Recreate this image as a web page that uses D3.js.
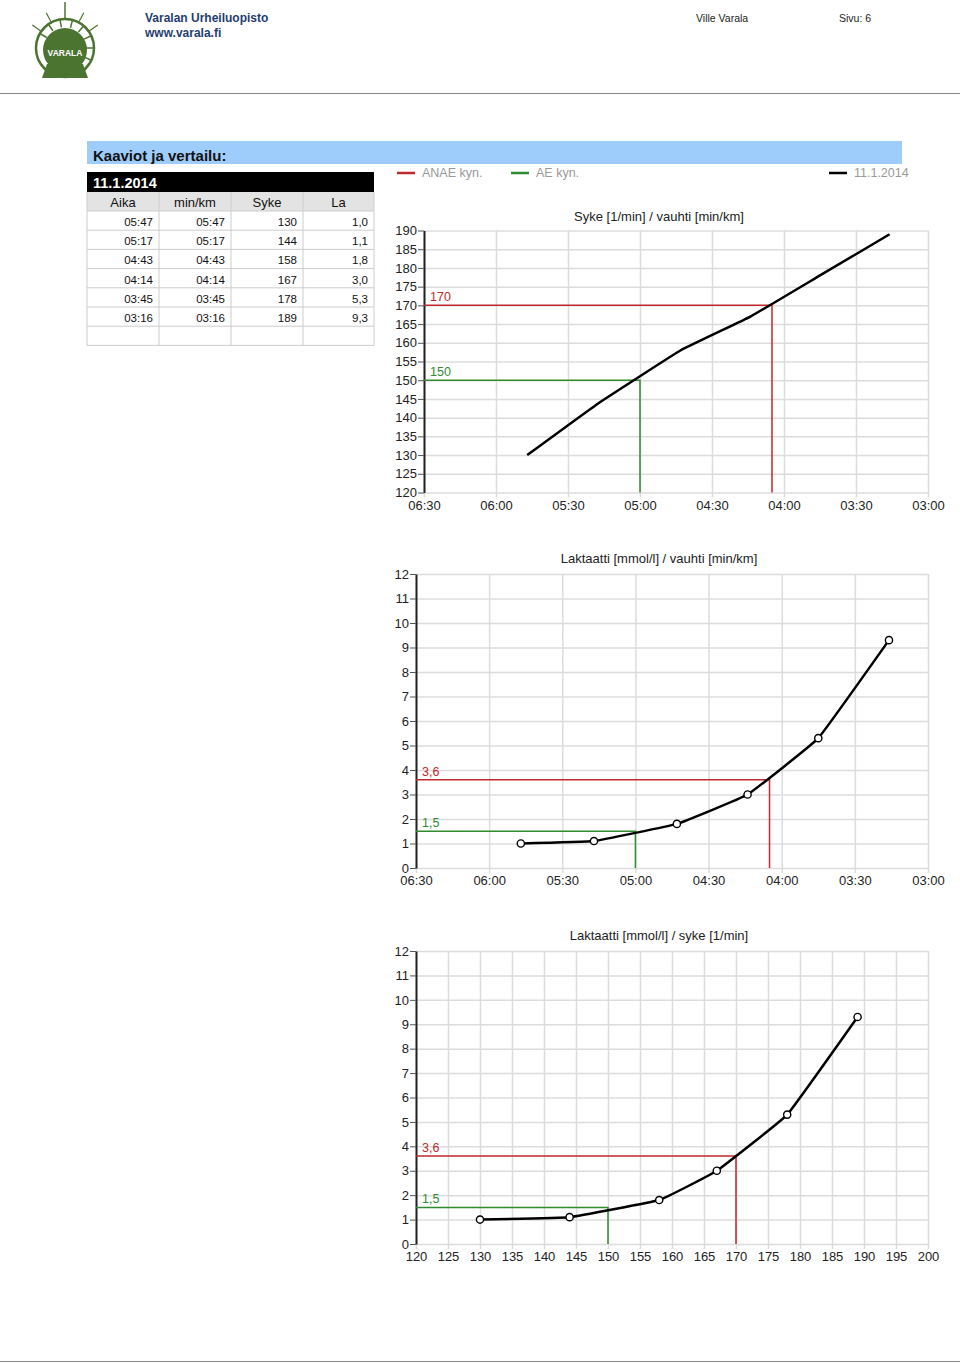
<!DOCTYPE html>
<html><head><meta charset="utf-8">
<script src="https://cdn.jsdelivr.net/npm/d3@7"></script>
<style>
body{margin:0;background:#fff;font-family:"Liberation Sans",Arial,sans-serif;}
svg text{font-family:"Liberation Sans",Arial,sans-serif;}
</style></head><body>
<svg id="page" width="960" height="1365"></svg>
<script>
// ---- data ----
const tableDate = "11.1.2014";
const tableHeaders = ["Aika", "min/km", "Syke", "La"];
const aika = ["05:47", "05:17", "04:43", "04:14", "03:45", "03:16"];
const pace = ["05:47", "05:17", "04:43", "04:14", "03:45", "03:16"];
const syke = [130, 144, 158, 167, 178, 189];
const la = [1.0, 1.1, 1.8, 3.0, 5.3, 9.3];
const laLabels = ["1,0", "1,1", "1,8", "3,0", "5,3", "9,3"];
const paceTicks = ["06:30", "06:00", "05:30", "05:00", "04:30", "04:00", "03:30", "03:00"];
const sykeTicks = [120, 125, 130, 135, 140, 145, 150, 155, 160, 165, 170, 175, 180, 185, 190];
const laTicks = [0, 1, 2, 3, 4, 5, 6, 7, 8, 9, 10, 11, 12];
const sykeXTicks = [120, 125, 130, 135, 140, 145, 150, 155, 160, 165, 170, 175, 180, 185, 190, 195, 200];
// thresholds
const anae = {pace: "04:05", syke: 170, la: 3.6, label: "ANAE kyn.", laLabel: "3,6"};
const ae = {pace: "05:00", syke: 150, la: 1.5, label: "AE kyn.", laLabel: "1,5"};

const toSec = s => { const [m, ss] = s.split(":").map(Number); return m * 60 + ss; };
const paceSec = pace.map(toSec);

const svg = d3.select("#page");
const RED = "#c0282d", GREEN = "#2e8b2e", GRID = "#dcdcdc";

// ---- header ----
const logo = svg.append("g").attr("fill", "#4b7431").attr("stroke", "#4b7431");
const cx = 65, cy = 48;
[-55, -28, 0, 28, 55].forEach(a => {
  const r = a * Math.PI / 180;
  const len = a === 0 ? 46 : 40;
  logo.append("line").attr("x1", cx).attr("y1", cy).attr("x2", cx + Math.sin(r) * len).attr("y2", cy - Math.cos(r) * len).attr("stroke-width", a === 0 ? 1.5 : 1.2);
});
logo.append("circle").attr("cx", cx).attr("cy", cy).attr("r", 29).attr("fill", "#fff").attr("stroke-width", 2.5);
for (let i = 0; i < 12; i++) {
  const a = (-150 + i * 25) * Math.PI / 180;
  logo.append("line").attr("x1", cx + Math.cos(a) * 21).attr("y1", cy + Math.sin(a) * 21).attr("x2", cx + Math.cos(a) * 29).attr("y2", cy + Math.sin(a) * 29).attr("stroke-width", 1.5);
}
logo.append("path").attr("d", `M${cx-18},${cy+16} L${cx-23},${cy+30} L${cx+23},${cy+30} L${cx+18},${cy+16} Z`).attr("stroke", "none");
logo.append("circle").attr("cx", cx).attr("cy", cy + 2).attr("r", 22).attr("stroke", "none");
logo.append("text").attr("x", cx).attr("y", cy + 8).attr("text-anchor", "middle").attr("fill", "#fff").attr("stroke", "none").attr("font-size", 8.5).attr("font-weight", "bold").text("VARALA");

svg.append("text").attr("x", 145).attr("y", 22).attr("font-size", 12).attr("font-weight", "bold").attr("fill", "#1f3e6e").text("Varalan Urheiluopisto");
svg.append("text").attr("x", 145).attr("y", 37).attr("font-size", 12).attr("font-weight", "bold").attr("fill", "#1f3e6e").text("www.varala.fi");
svg.append("text").attr("x", 696).attr("y", 22).attr("font-size", 10.5).attr("fill", "#222").text("Ville Varala");
svg.append("text").attr("x", 839).attr("y", 22).attr("font-size", 10.5).attr("fill", "#222").text("Sivu: 6");
svg.append("line").attr("x1", 0).attr("x2", 960).attr("y1", 93.5).attr("y2", 93.5).attr("stroke", "#888").attr("stroke-width", 1);
svg.append("line").attr("x1", 0).attr("x2", 960).attr("y1", 1361.5).attr("y2", 1361.5).attr("stroke", "#888").attr("stroke-width", 1);

// ---- section band ----
svg.append("rect").attr("x", 87).attr("y", 141).attr("width", 815).attr("height", 23).attr("fill", "#9fcdfb");
svg.append("text").attr("x", 93).attr("y", 161).attr("font-size", 15).attr("font-weight", "bold").attr("fill", "#111").text("Kaaviot ja vertailu:");

// ---- table ----
const colX = [87, 159, 231, 303, 374];
const tbl = svg.append("g");
tbl.append("rect").attr("x", 87).attr("y", 172).attr("width", 287).attr("height", 20).attr("fill", "#000");
tbl.append("text").attr("x", 93).attr("y", 188).attr("font-size", 14.5).attr("font-weight", "bold").attr("fill", "#fff").text(tableDate);
tbl.append("rect").attr("x", 87).attr("y", 192).attr("width", 287).attr("height", 19).attr("fill", "#e3e3e3");
tableHeaders.forEach((h, i) => {
  tbl.append("text").attr("x", (colX[i] + colX[i + 1]) / 2).attr("y", 207).attr("text-anchor", "middle").attr("font-size", 13).attr("fill", "#111").text(h);
});
const rowH = 19.2, row0 = 211;
const rows = aika.map((a, i) => [a, pace[i], String(syke[i]), laLabels[i]]);
rows.forEach((r, j) => {
  r.forEach((v, i) => {
    tbl.append("text").attr("x", colX[i + 1] - 6).attr("y", row0 + j * rowH + 15).attr("text-anchor", "end").attr("font-size", 11.5).attr("fill", "#111").text(v);
  });
});
const nRows = rows.length + 1;
for (let j = 0; j <= nRows; j++) {
  tbl.append("line").attr("x1", 87).attr("x2", 374).attr("y1", row0 + j * rowH).attr("y2", row0 + j * rowH).attr("stroke", "#ccc");
}
colX.forEach(x => tbl.append("line").attr("x1", x).attr("x2", x).attr("y1", 192).attr("y2", row0 + nRows * rowH).attr("stroke", "#ccc"));

// ---- legend ----
const legend = [{c: RED, t: anae.label, x: 397}, {c: GREEN, t: ae.label, x: 511}, {c: "#000", t: tableDate, x: 829}];
legend.forEach(l => {
  svg.append("line").attr("x1", l.x).attr("x2", l.x + 18).attr("y1", 173).attr("y2", 173).attr("stroke", l.c).attr("stroke-width", 2.5);
  svg.append("text").attr("x", l.x + 25).attr("y", 177).attr("font-size", 12.5).attr("fill", "#999").text(l.t);
});

// ---- chart helper ----
function chart(opts) {
  const {x, y, xTicks, xFmt, yTicks, title, titleY, pts, markers, thr} = opts;
  const g = svg.append("g");
  const [x0, x1] = x.range(), [y0, y1] = y.range();
  g.selectAll(".vg").data(xTicks).join("line")
    .attr("x1", d => x(d) + 0.5).attr("x2", d => x(d) + 0.5).attr("y1", y1).attr("y2", y0 + 5)
    .attr("stroke", GRID).attr("stroke-width", 1.5);
  g.selectAll(".hg").data(yTicks).join("line")
    .attr("x1", x0).attr("x2", x1).attr("y1", d => y(d) + 0.5).attr("y2", d => y(d) + 0.5)
    .attr("stroke", GRID).attr("stroke-width", 1.5);
  const ya = g.append("g").attr("transform", `translate(${x0},0)`)
    .call(d3.axisLeft(y).tickValues(yTicks).tickSize(6).tickPadding(1).tickSizeOuter(0));
  ya.select(".domain").attr("stroke", "#222").attr("stroke-width", 2);
  ya.selectAll(".tick line").attr("stroke", "#555");
  ya.selectAll(".tick text").attr("font-size", 13).attr("fill", "#222").attr("font-family", "Liberation Sans, Arial, sans-serif");
  const xa = g.append("g").attr("transform", `translate(0,${y0})`)
    .call(d3.axisBottom(x).tickValues(xTicks).tickFormat(xFmt).tickSize(0).tickPadding(8));
  xa.select(".domain").remove();
  xa.selectAll(".tick text").attr("font-size", 13).attr("fill", "#222").attr("font-family", "Liberation Sans, Arial, sans-serif");
  g.append("text").attr("x", 659).attr("y", titleY).attr("text-anchor", "middle").attr("font-size", 13).attr("fill", "#222").text(title);
  thr.forEach(t => {
    g.append("path").attr("d", `M${x0},${y(t.y)} H${x(t.x)} V${y0}`).attr("fill", "none").attr("stroke", t.c).attr("stroke-width", 1.5);
    g.append("text").attr("x", x0 + 6).attr("y", y(t.y) - 4).attr("font-size", 12.5).attr("fill", t.c).text(t.label);
  });
  const line = d3.line().x(d => x(d[0])).y(d => y(d[1])).curve(d3.curveCardinal.tension(0.75));
  const sorted = pts.slice().sort((a, b) => x(a[0]) - x(b[0]));
  g.append("path").attr("d", line(sorted)).attr("fill", "none").attr("stroke", "#000").attr("stroke-width", 2.5);
  if (markers) {
    g.selectAll(".m").data(pts).join("circle").attr("cx", d => x(d[0])).attr("cy", d => y(d[1])).attr("r", 3.6)
      .attr("fill", "#fff").attr("stroke", "#000").attr("stroke-width", 1.4);
  }
}

const paceTickSec = paceTicks.map(toSec);
const fmtPace = s => paceTicks[paceTickSec.indexOf(s)];

chart({
  x: d3.scaleLinear().domain([toSec("06:30"), toSec("03:00")]).range([424, 928]),
  y: d3.scaleLinear().domain([120, 190]).range([492.5, 230.5]),
  xTicks: paceTickSec, xFmt: fmtPace, yTicks: sykeTicks,
  title: "Syke [1/min] / vauhti [min/km]", titleY: 221,
  pts: paceSec.map((p, i) => [p, syke[i]]), markers: false,
  thr: [{x: toSec(anae.pace), y: anae.syke, c: RED, label: String(anae.syke)},
        {x: toSec(ae.pace), y: ae.syke, c: GREEN, label: String(ae.syke)}]
});
chart({
  x: d3.scaleLinear().domain([toSec("06:30"), toSec("03:00")]).range([416, 928]),
  y: d3.scaleLinear().domain([0, 12]).range([868, 574]),
  xTicks: paceTickSec, xFmt: fmtPace, yTicks: laTicks,
  title: "Laktaatti [mmol/l] / vauhti [min/km]", titleY: 563,
  pts: paceSec.map((p, i) => [p, la[i]]), markers: true,
  thr: [{x: toSec(anae.pace), y: anae.la, c: RED, label: anae.laLabel},
        {x: toSec(ae.pace), y: ae.la, c: GREEN, label: ae.laLabel}]
});
chart({
  x: d3.scaleLinear().domain([120, 200]).range([416, 928]),
  y: d3.scaleLinear().domain([0, 12]).range([1244, 951]),
  xTicks: sykeXTicks, xFmt: d => String(d), yTicks: laTicks,
  title: "Laktaatti [mmol/l] / syke [1/min]", titleY: 940,
  pts: syke.map((s, i) => [s, la[i]]), markers: true,
  thr: [{x: anae.syke, y: anae.la, c: RED, label: anae.laLabel},
        {x: ae.syke, y: ae.la, c: GREEN, label: ae.laLabel}]
});
</script>
</body></html>
